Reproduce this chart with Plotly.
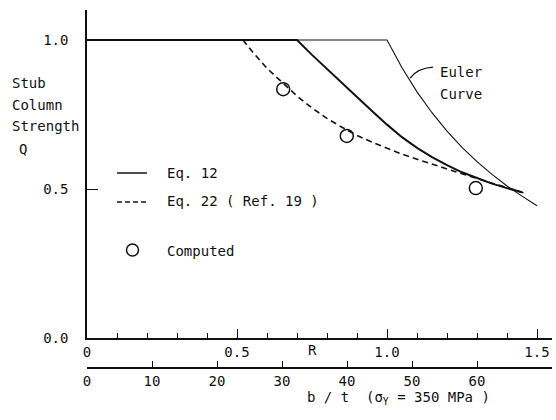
import plotly.graph_objects as go

# ---------------- data ----------------
# Eq. 12 (thick solid)
eq12_R = [0.0, 0.70, 0.75, 0.80, 0.85, 0.90, 0.95, 1.00, 1.05, 1.10, 1.15, 1.20, 1.25, 1.30, 1.35, 1.40, 1.45]
eq12_Q = [1.0, 1.0, 0.950, 0.902, 0.855, 0.809, 0.762, 0.716, 0.674, 0.638, 0.607, 0.580, 0.556, 0.536, 0.518, 0.503, 0.489]

# Eq. 22 (Ref. 19) (dashed)
eq22_R = [0.52, 0.55, 0.60, 0.65, 0.70, 0.75, 0.80, 0.85, 0.90, 0.95, 1.00, 1.05, 1.10, 1.15, 1.20, 1.25, 1.30, 1.35, 1.40, 1.46]
eq22_Q = [1.0, 0.962, 0.905, 0.857, 0.812, 0.772, 0.737, 0.707, 0.680, 0.657, 0.636, 0.617, 0.600, 0.583, 0.567, 0.551, 0.535, 0.519, 0.503, 0.486]

# Euler curve (thin solid)
euler_R = [0.0, 1.00, 1.05, 1.10, 1.15, 1.20, 1.25, 1.30, 1.35, 1.40, 1.45, 1.50]
euler_Q = [1.0, 1.0, 0.907, 0.826, 0.756, 0.694, 0.640, 0.592, 0.549, 0.510, 0.476, 0.444]

# Computed points (open circles)
comp_R = [0.654, 0.866, 1.296]
comp_Q = [0.835, 0.678, 0.503]

# Axis ticks
r_ticks = [0, 0.5, 1.0, 1.5]
r_ticktext = ["0", "0.5", "1.0", "1.5"]
bt_ticks = [0, 10, 20, 30, 40, 50, 60]
bt_ticktext = ["0", "10", "20", "30", "40", "50", "60"]
q_ticks = [0.0, 0.5, 1.0]
q_ticktext = ["0.0", "0.5", "1.0"]

# ---------------- layout geometry ----------------
W, H = 556, 420
ML, MR, MT, MB = 87, 4, 10, 52
PW = W - ML - MR          # 465
PH = H - MT - MB          # 358
Y0_PX = 338               # pixel row of Q = 0
FONT = "DejaVu Sans Mono"
INK = "#111111"


def px_x(px):
    return (px - ML) / PW


def px_y(py):
    return (H - MB - py) / PH


fig = go.Figure()

fig.add_trace(go.Scatter(x=euler_R, y=euler_Q, mode="lines",
                         line=dict(color=INK, width=1.1), hoverinfo="skip", showlegend=False))
fig.add_trace(go.Scatter(x=eq22_R, y=eq22_Q, mode="lines",
                         line=dict(color=INK, width=1.6, dash="6px,4px"), hoverinfo="skip", showlegend=False))
fig.add_trace(go.Scatter(x=eq12_R, y=eq12_Q, mode="lines",
                         line=dict(color=INK, width=2.0), hoverinfo="skip", showlegend=False))
fig.add_trace(go.Scatter(x=comp_R, y=comp_Q, mode="markers",
                         marker=dict(symbol="circle-open", size=13, color=INK, line=dict(width=1.5)),
                         hoverinfo="skip", showlegend=False))
# carrier for the second (b/t) axis
fig.add_trace(go.Scatter(x=[0], y=[0], xaxis="x2", mode="markers",
                         marker=dict(opacity=0), hoverinfo="skip", showlegend=False))

ydom0 = (H - MB - Y0_PX) / PH
yrange_top = (Y0_PX - MT) / 298.0

fig.update_layout(
    width=W, height=H,
    margin=dict(l=ML, r=MR, t=MT, b=MB),
    paper_bgcolor="white", plot_bgcolor="white",
    font=dict(family=FONT, size=14, color=INK),
    showlegend=False,
    xaxis=dict(range=[0, PW / 300.0], anchor="y", showgrid=False, zeroline=False,
               showline=True, linecolor=INK, linewidth=1.5,
               ticks="inside", ticklen=9, tickwidth=1.3, tickcolor=INK,
               tickvals=r_ticks, ticktext=r_ticktext,
               minor=dict(dtick=0.1, tick0=0, ticks="inside", ticklen=5, tickwidth=1.2, tickcolor=INK),
               tickfont=dict(family=FONT, size=14)),
    xaxis2=dict(range=[0, PW / 6.5], overlaying="x", anchor="free", position=0, side="bottom",
                showgrid=False, zeroline=False,
                showline=True, linecolor=INK, linewidth=1.5,
                ticks="inside", ticklen=6, tickwidth=1.3, tickcolor=INK,
                tickvals=bt_ticks, ticktext=bt_ticktext,
                tickfont=dict(family=FONT, size=14)),
    yaxis=dict(range=[0, yrange_top], domain=[ydom0, 1], showgrid=False, zeroline=False,
               showline=True, linecolor=INK, linewidth=1.5,
               ticks="inside", ticklen=11, tickwidth=1.3, tickcolor=INK,
               tickvals=q_ticks, ticktext=q_ticktext, ticklabelstandoff=14,
               tickfont=dict(family=FONT, size=14)),
)

ann = []
# y title lines
for txt, px0, py0 in [("Stub", 10, 83), ("Column", 10, 105), ("Strength", 10, 126), ("Q", 17, 149)]:
    ann.append(dict(text=txt, xref="paper", yref="paper", x=px_x(px0), y=px_y(py0),
                    xanchor="left", yanchor="middle", showarrow=False))
# R label on the upper x axis
ann.append(dict(text="R", xref="x", yref="paper", x=0.75, y=px_y(350),
                xanchor="center", yanchor="middle", showarrow=False))
# b/t axis title
ann.append(dict(text="b / t  (σ<sub>Y</sub> = 350 MPa )", xref="paper", yref="paper",
                x=px_x(305), y=px_y(398), xanchor="left", yanchor="middle", showarrow=False))
# Euler label
ann.append(dict(text="Euler", xref="paper", yref="paper", x=px_x(438), y=px_y(72),
                xanchor="left", yanchor="middle", showarrow=False))
ann.append(dict(text="Curve", xref="paper", yref="paper", x=px_x(438), y=px_y(94),
                xanchor="left", yanchor="middle", showarrow=False))
# legend labels
for txt, py0 in [("Eq. 12", 173), ("Eq. 22 ( Ref. 19 )", 201), ("Computed", 251)]:
    ann.append(dict(text=txt, xref="paper", yref="paper", x=px_x(165), y=px_y(py0),
                    xanchor="left", yanchor="middle", showarrow=False))
fig.update_layout(annotations=ann)

shapes = [
    # legend samples
    dict(type="line", xref="paper", yref="paper", x0=px_x(117), x1=px_x(147), y0=px_y(173), y1=px_y(173),
         line=dict(color=INK, width=1.5)),
    dict(type="line", xref="paper", yref="paper", x0=px_x(117), x1=px_x(147), y0=px_y(202), y1=px_y(202),
         line=dict(color=INK, width=1.3, dash="5px,3px")),
    dict(type="circle", xref="paper", yref="paper", x0=px_x(126.5), x1=px_x(138.5),
         y0=px_y(244), y1=px_y(256), line=dict(color=INK, width=1.5)),
    # Euler leader
    dict(type="path", xref="x", yref="y", path="M 1.077,0.872 Q 1.10,0.905 1.153,0.909",
         line=dict(color=INK, width=1.3)),
]
fig.update_layout(shapes=shapes)

fig.write_html("out.html")
